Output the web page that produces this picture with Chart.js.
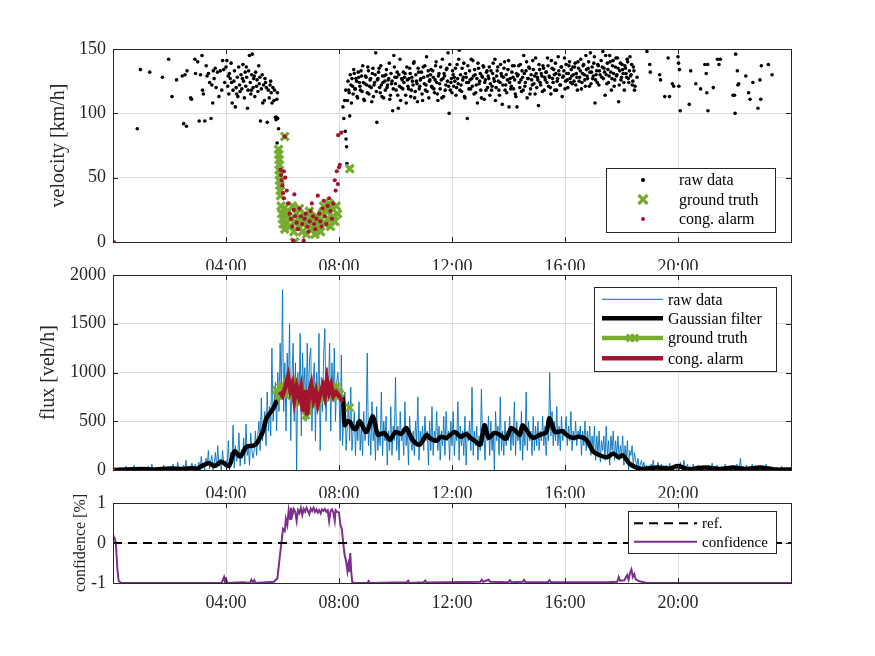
<!DOCTYPE html>
<html>
<head>
<meta charset="utf-8">
<script src="https://cdn.jsdelivr.net/npm/chart.js@4"></script>
<style>
  body { margin: 0; background: #fff; }
  #wrap { position: relative; width: 875px; height: 656px; }
  canvas { position: absolute; left: 0; }
</style>
</head>
<body>
<div id="wrap">
  <canvas id="velChart" width="875" height="270" style="top:0px"></canvas>
  <canvas id="fluxChart" width="875" height="248" style="top:250px"></canvas>
  <canvas id="confChart" width="875" height="135" style="top:480px"></canvas>
</div>
<script>
// time axis in hours
const hourTicks = [4, 8, 12, 16, 20];

// velocity raw data [hour, km/h]
const velRawEarly = [
  [0.86,88],[0.97,134],[1.30,132],[1.75,128],[1.97,142],[2.09,113],[2.25,126],[2.45,129],[2.50,92],[2.55,130],
  [2.60,90],[2.62,133],[2.75,112],[2.78,111],[2.90,142],[2.92,131],[3.00,140],[3.05,94],[3.10,130],[3.15,145],
  [3.17,118],[3.20,115],[3.25,94],[3.30,137],[3.33,129],[3.38,131],[3.42,124],[3.47,96],[3.50,122],[3.53,108],
  [3.55,133],[3.58,127],[3.62,135],[3.65,120],[3.70,132],[3.75,113],[3.80,133],[3.85,118],[3.88,141],[3.92,134],
  [3.95,124],[4.00,136],[4.03,141],[4.06,121],[4.10,115],[4.12,131],[4.15,127],[4.18,139],[4.22,108],[4.25,118],
  [4.28,125],[4.30,133],[4.33,105],[4.36,120],[4.40,128],[4.42,113],[4.45,136],[4.48,122],[4.50,117],[4.53,130],
  [4.56,119],[4.60,138],[4.62,125],[4.65,112],[4.68,132],[4.70,121],[4.73,128],[4.76,104],[4.78,118],[4.80,133],
  [4.83,145],[4.86,124],[4.88,115],[4.91,130],[4.93,146],[4.96,120],[4.98,127],[5.02,113],[5.05,132],[5.08,121],
  [5.10,126],[5.13,117],[5.16,137],[5.18,123],[5.22,94],[5.25,119],[5.28,130],[5.30,108],[5.33,122],[5.36,110],
  [5.40,124],[5.43,120],[5.46,93],[5.50,118],[5.53,112],[5.56,122],[5.60,116],[5.63,108],[5.66,120],[5.70,110],
  [5.72,118],[5.75,97],[5.77,95],[5.79,97],[5.80,111],[5.81,77],[5.82,116],[5.83,96],[5.86,88],
  [4.08,129],[4.20,124],[4.38,115],[4.58,127],[4.72,136],[4.90,118],[5.00,129],[5.20,128],[5.38,127],[5.58,125],
  [8.14,105],[8.17,96],[8.22,86],[8.25,80],[8.27,74],[8.28,61],[8.20,110],[8.24,118]
];
const velRawStart = 8.3;
const velRawStep = 0.04;
const velRawDense = [
  110,118,98,122,127,115,131,119,125,112,128,121,133,117,124,110,129,122,136,115,126,120,131,113,124,
  147,93,127,135,116,122,129,112,125,130,120,126,139,114,123,102,145,128,118,132,104,121,110,127,119,
  124,131,108,126,119,135,113,128,122,140,117,125,109,132,121,127,115,136,123,118,144,129,112,126,134,
  120,128,116,137,124,110,131,119,126,142,113,129,122,135,147,100,118,127,133,121,125,114,138,123,149,
  130,117,126,139,112,128,96,124,133,119,127,141,115,130,122,108,135,125,118,129,137,111,126,132,120,
  127,114,133,121,139,125,110,129,136,118,124,131,107,128,140,122,116,134,105,127,121,137,119,126,113,
  105,130,124,138,117,128,145,121,133,112,127,135,119,126,141,123,115,131,128,106,134,122,129,137,118,
  126,132,143,121,128,115,135,124,130,139,118,127,133,122,136,113,129,143,125,131,120,137,127,134,123,
  130,136,122,128,140,125,133,119,131,138,126,145,129,135,121,147,132,127,139,108,130,124,137,133,151,
  128,148,135,114,130,139,124,145,132,127,141,121,136,129,143,109,133,126,138,131,118,135,128,140,124,
  144,130,122,136,118
];
const velRawStart2 = 8.32;
const velRawDense2 = [
  125,116,130,108,121,134,119,127,113,132,124,118,129,137,111,123,128,116,133,121,127,109,135,122,130,
  117,126,132,120,137,113,124,129,118,134,122,127,111,131,125,119,136,123,128,114,130,142,120,126,132,
  128,114,136,121,127,131,118,125,139,112,130,123,135,119,126,132,110,128,137,122,117,133,125,130,121,
  133,119,126,140,115,129,123,136,112,127,131,118,134,125,121,138,124,116,130,128,135,120,127,142,118,
  122,135,128,113,131,124,137,119,126,142,121,129,134,116,127,139,123,131,112,128,136,124,118,133,129,
  136,123,118,131,127,142,120,133,125,114,138,129,122,135,118,130,126,141,124,119,132,128,137,115,131,
  129,137,120,126,133,118,131,124,140,127,136,115,130,122,134,129,143,120,126,138,124,131,117,135,128,
  132,124,137,129,120,141,127,134,118,131,125,144,130,122,136,128,133,119,138,126,131,140,124,129,136,
  125,139,131,118,135,128,142,124,137,130,121,134,127,140,132,123,136,129,144,126,133,138,122,130,141,
  136,127,132,145,123,134,129,140,118,137,131,126,143,130,135,122,139,128,134,124,137,131,142,127,133,
  129,138,125,133,121
];
const velRawLate = [
  [18.55,128],[18.9,148],[19.0,138],[19.02,132],[19.35,130],[19.38,126],[19.53,113],[19.65,143],[19.7,113],
  [19.8,123],[19.85,121],[20.0,144],[20.02,139],[20.05,134],[20.08,102],[20.03,121],[20.4,107],[20.45,133],
  [20.6,151],[20.63,123],[20.8,119],[20.95,138],[21.0,131],[21.02,116],[21.05,138],[21.06,102],[21.25,120],
  [21.4,142],[21.45,138],[21.5,142],[21.95,114],[22.0,114],[22.02,100],[22.04,146],[22.1,133],[22.12,122],
  [22.15,123],[22.4,129],[22.5,116],[22.55,111],[22.65,124],[22.83,104],[22.9,126],[22.93,111],[22.95,137],
  [23.2,138],[23.33,130]
];
const velTruth = [
  [5.86,72],[5.87,68],[5.88,64],[5.89,60],[5.88,56],[5.90,52],[5.89,48],[5.91,44],[5.92,40],[5.93,36],
  [6.08,82],[5.95,28],[5.97,22],[6.00,18],[6.02,14],[6.05,26],[6.08,10],[6.12,20],[6.15,15],[6.20,24],
  [6.25,12],[6.30,18],[6.35,28],[6.40,8],[6.43,0],[6.45,16],[6.50,22],[6.55,12],[6.60,26],[6.65,18],
  [6.70,8],[6.75,14],[6.80,20],[6.85,6],[6.90,16],[6.95,24],[7.00,10],[7.05,18],[7.10,14],[7.15,6],
  [7.20,20],[7.25,12],[7.30,16],[7.35,8],[7.40,22],[7.45,28],[7.50,14],[7.55,24],[7.60,18],[7.65,30],
  [7.70,12],[7.75,26],[7.80,20],[7.85,16],[7.90,28],[7.95,22],[8.38,57]
];
const velAlarm = [
  [0.03,0],[6.08,82],[5.93,56],[5.95,52],[5.97,48],[6.00,44],[6.02,38],[6.05,34],[6.10,50],[6.15,40],
  [6.05,55],[6.20,30],[6.25,22],[6.30,18],[6.35,12],[6.38,1],[6.40,25],[6.42,37],[6.45,20],[6.50,15],
  [6.55,10],[6.60,26],[6.65,20],[6.70,14],[6.75,1],[6.78,18],[6.82,22],[6.88,12],[6.92,8],[6.96,16],
  [7.00,24],[7.04,30],[7.08,20],[7.12,14],[7.16,10],[7.20,18],[7.25,36],[7.30,22],[7.34,16],[7.38,12],
  [7.42,26],[7.46,32],[7.50,20],[7.55,14],[7.60,28],[7.65,34],[7.70,24],[7.75,18],[7.80,30],[7.85,48],
  [7.88,40],[7.92,55],[7.96,45],[8.00,58],[8.03,60],[7.97,83],[8.08,85]
];

// flux raw data, one value every 2.5 minutes [veh/h]
const fluxRawStep = 2.5;
const fluxRaw = [
  0,10,0,20,0,0,30,0,5,0,0,40,0,10,0,0,20,0,50,0,0,10,0,0,
  0,20,0,0,10,0,40,0,0,60,0,10,0,0,30,0,0,20,0,50,0,0,10,0,
  30,0,0,60,0,10,0,80,0,20,0,0,50,0,100,0,30,0,0,70,10,0,60,0,
  20,80,0,140,30,60,0,120,40,200,10,90,150,0,60,180,20,250,40,110,0,200,80,30,
  100,40,300,0,180,60,460,20,250,90,150,380,40,210,120,330,60,470,150,240,50,380,200,120,
  200,400,150,350,500,200,740,300,450,600,250,800,400,650,350,1250,500,700,900,400,1000,600,1300,750,
  1850,600,1100,400,1200,800,1500,300,950,1300,500,1100,0,1000,700,1400,350,1200,800,1050,500,1300,650,1150,
  1250,400,900,1100,300,1000,700,1400,200,950,600,1200,1450,500,1050,800,1300,400,1100,700,1250,500,900,1000,
  800,300,1180,250,550,800,200,450,700,300,850,200,400,600,150,500,300,700,200,450,150,600,300,400,
  1200,250,500,150,700,300,450,100,650,200,400,250,800,150,500,300,550,50,400,200,650,150,450,300,
  950,200,450,100,600,300,400,150,700,250,450,50,550,300,200,400,150,500,300,750,100,400,250,450,
  200,550,300,400,50,500,200,650,150,400,300,600,200,450,100,400,250,550,150,600,300,400,100,500,
  250,600,150,400,300,700,100,450,250,400,150,550,50,400,300,500,200,850,150,400,250,450,100,350,
  200,830,250,450,100,400,300,550,150,500,200,400,0,600,300,450,150,750,200,400,150,500,250,400,
  300,550,200,450,250,700,150,500,300,400,200,600,100,450,250,800,200,500,300,400,150,550,200,450,
  250,500,200,400,300,550,250,450,150,400,300,1000,350,600,250,500,300,650,250,450,200,550,300,400,
  400,550,250,450,300,600,200,400,300,500,250,400,350,450,150,400,250,500,200,400,250,450,150,350,
  200,450,100,350,150,400,80,300,200,350,100,450,150,300,50,350,200,400,100,300,150,350,100,250,
  150,350,50,250,100,300,0,200,150,250,50,180,100,40,120,0,60,100,20,80,0,50,20,0,
  0,60,20,100,0,40,10,80,0,30,60,0,20,0,50,10,0,70,0,30,0,40,10,0,
  40,0,80,20,0,100,30,0,60,10,40,0,20,60,0,30,0,50,10,0,40,0,20,10,
  20,0,50,10,0,70,0,30,10,50,0,20,0,40,10,0,60,0,20,0,30,10,0,40,
  0,30,60,0,10,120,0,40,20,0,50,10,0,30,0,60,10,0,40,0,20,0,50,0,
  30,0,20,60,0,10,40,0,20,0,10,0,30,0,20,0,40,0,10,0,20,0,10,0
];
const fluxGauss = [
  [0,0],[0.5,5],[1,10],[1.5,5],[2,15],[2.5,10],[2.8,20],[3.0,15],[3.2,50],[3.4,70],[3.6,40],[3.83,85],
  [4.1,40],[4.3,190],[4.5,140],[4.73,240],[4.97,250],[5.1,280],[5.3,390],[5.43,530],[5.67,630],[5.84,740],
  [6.0,800],[6.5,780],[7.0,760],[7.5,790],[8.0,760],[8.13,740],[8.2,460],[8.3,500],[8.4,490],[8.5,430],
  [8.6,420],[8.73,500],[8.97,390],[9.2,550],[9.38,360],[9.6,380],[9.8,310],[10.0,390],[10.2,370],[10.38,430],
  [10.6,310],[10.85,260],[11.1,360],[11.25,320],[11.45,300],[11.6,340],[11.8,330],[12.1,390],[12.3,340],
  [12.5,370],[12.65,330],[12.8,300],[13.0,260],[13.15,460],[13.3,330],[13.5,380],[13.7,360],[13.9,320],
  [14.1,430],[14.25,400],[14.4,360],[14.5,460],[14.75,360],[14.9,330],[15.1,360],[15.34,390],[15.45,530],
  [15.65,390],[15.9,400],[16.1,350],[16.28,330],[16.5,340],[16.75,310],[17.0,190],[17.24,150],[17.5,130],
  [17.7,170],[17.9,130],[18.05,150],[18.3,60],[18.7,10],[19.0,20],[19.3,25],[19.7,15],[20.0,40],[20.4,5],
  [20.7,20],[21.0,25],[21.5,10],[21.95,25],[22.4,10],[22.9,25],[23.4,5],[24,5]
];
const fluxTruth = [
  [5.78,820],[5.85,760],[5.92,850],[6.0,800],[6.08,780],[6.17,900],[6.25,830],[6.33,760],[6.42,870],
  [6.5,740],[6.58,820],[6.67,700],[6.75,760],[6.83,560],[6.92,600],[7.0,780],[7.08,720],[7.17,820],
  [7.25,680],[7.33,760],[7.42,800],[7.5,740],[7.58,880],[7.67,780],[7.75,820],[7.83,760],[7.92,850],
  [8.0,800],[8.03,780],[8.2,null],[8.38,640]
];
const fluxAlarm = [
  [0,0],[0.08,0],[0.1,null],
  [5.9,800],[6.0,760],[6.1,850],[6.2,960],[6.28,820],[6.35,880],[6.42,720],[6.5,850],[6.58,760],
  [6.65,840],[6.72,600],[6.8,820],[6.87,560],[6.95,800],[7.02,880],[7.1,720],[7.18,800],[7.25,680],
  [7.33,780],[7.42,860],[7.5,760],[7.57,920],[7.65,800],[7.72,870],[7.8,760],[7.9,800],[8.0,760],[8.13,700]
];

// confidence [-1..1]
const confidence = [
  [0,0.1],[0.03,0.16],[0.07,0.1],[0.1,0],[0.15,-0.6],[0.2,-0.95],[0.3,-1],[3.85,-1],[3.9,-0.9],[3.93,-0.85],
  [3.96,-0.95],[4.0,-0.9],[4.05,-1],[4.6,-0.98],[4.85,-1],[4.9,-0.92],[4.95,-0.98],[5.0,-0.93],[5.05,-1],
  [5.7,-0.97],[5.82,-0.88],[5.88,-0.5],[5.96,0],[6.02,0.35],[6.08,0.3],[6.12,0.6],[6.17,0.45],[6.22,0.82],
  [6.27,0.6],[6.3,0.88],[6.35,0.7],[6.4,0.85],[6.45,0.78],[6.5,0.55],[6.55,0.82],[6.6,0.75],[6.65,0.88],
  [6.7,0.7],[6.75,0.85],[6.8,0.78],[6.85,0.88],[6.9,0.8],[6.95,0.72],[7.0,0.86],[7.05,0.8],[7.1,0.88],
  [7.15,0.78],[7.2,0.84],[7.25,0.76],[7.3,0.82],[7.35,0.74],[7.4,0.84],[7.45,0.8],[7.5,0.85],[7.55,0.78],
  [7.6,0.82],[7.65,0.55],[7.7,0.8],[7.75,0.84],[7.8,0.76],[7.85,0.56],[7.88,0.82],[7.93,0.78],[8.0,0.76],
  [8.05,0.45],[8.1,0.35],[8.15,0],[8.2,-0.3],[8.25,-0.45],[8.3,-0.7],[8.33,-0.55],[8.36,-0.72],[8.4,-0.25],
  [8.43,-0.7],[8.47,-0.98],[8.55,-1],[9.0,-1],[9.05,-0.95],[9.1,-1],[10.4,-0.98],[10.45,-0.94],[10.5,-1],
  [11.0,-0.98],[11.05,-0.94],[11.1,-0.99],[13.0,-0.97],[13.05,-0.92],[13.1,-0.97],[13.3,-0.92],[13.35,-0.97],
  [14.0,-0.98],[14.05,-0.93],[14.1,-0.98],[14.5,-0.97],[14.55,-0.92],[14.6,-0.98],[15.4,-0.98],[15.45,-0.93],
  [15.5,-0.98],[17.5,-0.98],[17.85,-0.97],[17.9,-0.85],[17.95,-0.94],[18.1,-0.93],[18.2,-0.8],[18.25,-0.92],
  [18.3,-0.75],[18.35,-0.66],[18.4,-0.85],[18.45,-0.78],[18.5,-0.9],[18.6,-0.95],[18.9,-1],[24,-1]
];
const refLine = [[0,0],[24,0]];

const FONT = "'Liberation Serif', 'Times New Roman', serif";
Chart.defaults.font.family = FONT;
Chart.defaults.color = '#262626';

const BLUE = '#0072BD', GREEN = '#77AC30', RED = '#A2142F', PURPLE = '#7E2F8E';
const GRID = '#dedede';

const pts = arr => arr.map(([x, y]) => ({x, y}));

function xAxis(h, pad) {
  return {
    type: 'linear', min: 0, max: 24,
    afterBuildTicks: s => { s.ticks = hourTicks.map(v => ({value: v})); },
    afterFit: s => { s.height = h; },
    ticks: {
      padding: pad, maxRotation: 0, autoSkip: false, font: {size: 18},
      callback: v => String(v).padStart(2, '0') + ':00'
    },
    grid: {color: GRID, drawTicks: false},
    border: {display: false}
  };
}

function yAxis(min, max, step, title, size, pad) {
  return {
    min, max,
    afterFit: s => { s.width = 113; },
    ticks: {stepSize: step, padding: 7, font: {size: 18}, callback: v => String(v)},
    grid: {color: GRID, drawTicks: false},
    border: {display: false},
    title: {display: true, text: title, color: '#262626', font: {size}, padding: {top: pad, bottom: 0}}
  };
}

// box and inward ticks like the original
const frame = {
  id: 'frame',
  afterDatasetsDraw(chart) {
    const {ctx, chartArea: a, scales} = chart;
    ctx.save();
    ctx.strokeStyle = '#262626';
    ctx.lineWidth = 1;
    ctx.beginPath();
    scales.x.ticks.forEach(t => {
      const px = Math.round(scales.x.getPixelForValue(t.value)) + 0.5;
      ctx.moveTo(px, a.bottom); ctx.lineTo(px, a.bottom - 5);
      ctx.moveTo(px, a.top); ctx.lineTo(px, a.top + 5);
    });
    scales.y.ticks.forEach(t => {
      const py = Math.round(scales.y.getPixelForValue(t.value)) + 0.5;
      ctx.moveTo(a.left, py); ctx.lineTo(a.left + 5, py);
      ctx.moveTo(a.right, py); ctx.lineTo(a.right - 5, py);
    });
    ctx.stroke();
    ctx.strokeRect(Math.round(a.left) + 0.5, Math.round(a.top) + 0.5, Math.round(a.width), Math.round(a.height));
    ctx.restore();
  }
};

function cross(ctx, x, y, r, w, color) {
  ctx.strokeStyle = color; ctx.lineWidth = w;
  ctx.beginPath();
  ctx.moveTo(x - r, y - r); ctx.lineTo(x + r, y + r);
  ctx.moveTo(x - r, y + r); ctx.lineTo(x + r, y - r);
  ctx.stroke();
}

const boxLegend = {
  id: 'boxLegend',
  afterDraw(chart, args, o) {
    if (!o.items) return;
    const ctx = chart.ctx;
    ctx.save();
    ctx.fillStyle = '#fff';
    ctx.fillRect(o.x, o.y, o.w, o.h);
    ctx.strokeStyle = '#262626'; ctx.lineWidth = 1;
    ctx.strokeRect(o.x + 0.5, o.y + 0.5, o.w, o.h);
    ctx.font = o.size + 'px ' + FONT;
    ctx.textBaseline = 'middle';
    o.items.forEach((it, i) => {
      const y = o.rows[i];
      const cx = (o.x0 + o.x1) / 2;
      if (it.line) {
        ctx.strokeStyle = it.color; ctx.lineWidth = it.line;
        ctx.setLineDash(it.dash || []);
        ctx.beginPath(); ctx.moveTo(o.x0, y); ctx.lineTo(o.x1, y); ctx.stroke();
        ctx.setLineDash([]);
      }
      if (it.dot) {
        ctx.fillStyle = it.color;
        ctx.beginPath(); ctx.arc(cx, y, it.dot, 0, Math.PI * 2); ctx.fill();
      }
      if (it.cross) {
        if (it.twin) {
          cross(ctx, cx - 2, y, it.cross, 2.6, it.color);
          cross(ctx, cx + 2, y, it.cross, 2.6, it.color);
        } else {
          cross(ctx, cx, y, it.cross, 3.2, it.color);
        }
      }
      ctx.fillStyle = '#000';
      ctx.fillText(it.text, o.tx, y + 1);
    });
    ctx.restore();
  }
};

// ---------- velocity ----------
const velRawPts = [
  ...pts(velRawEarly),
  ...velRawDense.map((v, i) => ({x: velRawStart + i * velRawStep, y: v})),
  ...velRawDense2.map((v, i) => ({x: velRawStart2 + i * velRawStep, y: v})),
  ...pts(velRawLate)
];

new Chart(document.getElementById('velChart'), {
  type: 'line',
  data: {
    datasets: [
      {label: 'cong. alarm', data: pts(velAlarm), showLine: false, pointRadius: 2.1,
        pointBackgroundColor: RED, pointBorderWidth: 0},
      {label: 'ground truth', data: pts(velTruth), showLine: false, pointStyle: 'crossRot', pointRadius: 5.5,
        pointBorderColor: GREEN, pointBorderWidth: 3.3},
      {label: 'raw data', data: velRawPts, showLine: false, pointRadius: 1.8,
        pointBackgroundColor: '#000', pointBorderWidth: 0}
    ]
  },
  options: {
    responsive: false, animation: false,
    layout: {padding: {top: 49, right: 84, left: 0, bottom: 0}},
    scales: {x: xAxis(28, 14), y: yAxis(0, 150, 50, 'velocity [km/h]', 20, 47)},
    plugins: {
      legend: {display: false}, tooltip: {enabled: false},
      boxLegend: {
        x: 606, y: 168, w: 169, h: 64, size: 16, x0: 630, x1: 656, tx: 679, rows: [180, 199.5, 219],
        items: [
          {text: 'raw data', dot: 2, color: '#000'},
          {text: 'ground truth', cross: 4.5, color: GREEN},
          {text: 'cong. alarm', dot: 2, color: RED}
        ]
      }
    }
  },
  plugins: [frame, boxLegend]
});

// ---------- flux ----------
new Chart(document.getElementById('fluxChart'), {
  type: 'line',
  data: {
    datasets: [
      {label: 'cong. alarm', data: pts(fluxAlarm), borderColor: RED, borderWidth: 4.5, pointRadius: 0,
        spanGaps: false},
      {label: 'ground truth', data: pts(fluxTruth), borderColor: GREEN, borderWidth: 4.5, pointStyle: 'crossRot',
        pointRadius: 5, pointBorderColor: GREEN, pointBorderWidth: 2.8, spanGaps: false},
      {label: 'Gaussian filter', data: pts(fluxGauss), borderColor: '#000', borderWidth: 4.5, pointRadius: 0,
        tension: 0.3},
      {label: 'raw data', data: fluxRaw.map((v, i) => ({x: i * fluxRawStep / 60, y: v})),
        borderColor: BLUE, borderWidth: 0.9, pointRadius: 0}
    ]
  },
  options: {
    responsive: false, animation: false,
    layout: {padding: {top: 25, right: 84, left: 0, bottom: 0}},
    scales: {x: xAxis(28, 13), y: yAxis(0, 2000, 500, 'flux [veh/h]', 20, 37)},
    plugins: {
      legend: {display: false}, tooltip: {enabled: false},
      boxLegend: {
        x: 594, y: 37, w: 182, h: 84, size: 16, x0: 602, x1: 663, tx: 668, rows: [49.3, 68.3, 88, 108.3],
        items: [
          {text: 'raw data', line: 1, color: BLUE},
          {text: 'Gaussian filter', line: 4.5, color: '#000'},
          {text: 'ground truth', line: 4.5, cross: 3.5, twin: true, color: GREEN},
          {text: 'cong. alarm', line: 4.5, color: RED}
        ]
      }
    }
  },
  plugins: [frame, boxLegend]
});

// ---------- confidence ----------
new Chart(document.getElementById('confChart'), {
  type: 'line',
  data: {
    datasets: [
      {label: 'ref.', data: pts(refLine), borderColor: '#000', borderWidth: 2, borderDash: [9, 6], pointRadius: 0},
      {label: 'confidence', data: pts(confidence), borderColor: PURPLE, borderWidth: 2, pointRadius: 0}
    ]
  },
  options: {
    responsive: false, animation: false,
    layout: {padding: {top: 23, right: 84, left: 0, bottom: 0}},
    scales: {x: xAxis(32, 9), y: yAxis(-1, 1, 1, 'confidence [%]', 16, 71)},
    plugins: {
      legend: {display: false}, tooltip: {enabled: false},
      boxLegend: {
        x: 628, y: 31, w: 148, h: 42, size: 15, x0: 634, x1: 697, tx: 702, rows: [43.3, 61.7],
        items: [
          {text: 'ref.', line: 2, dash: [9, 6], color: '#000'},
          {text: 'confidence', line: 2, color: PURPLE}
        ]
      }
    }
  },
  plugins: [frame, boxLegend]
});
</script>
</body>
</html>
